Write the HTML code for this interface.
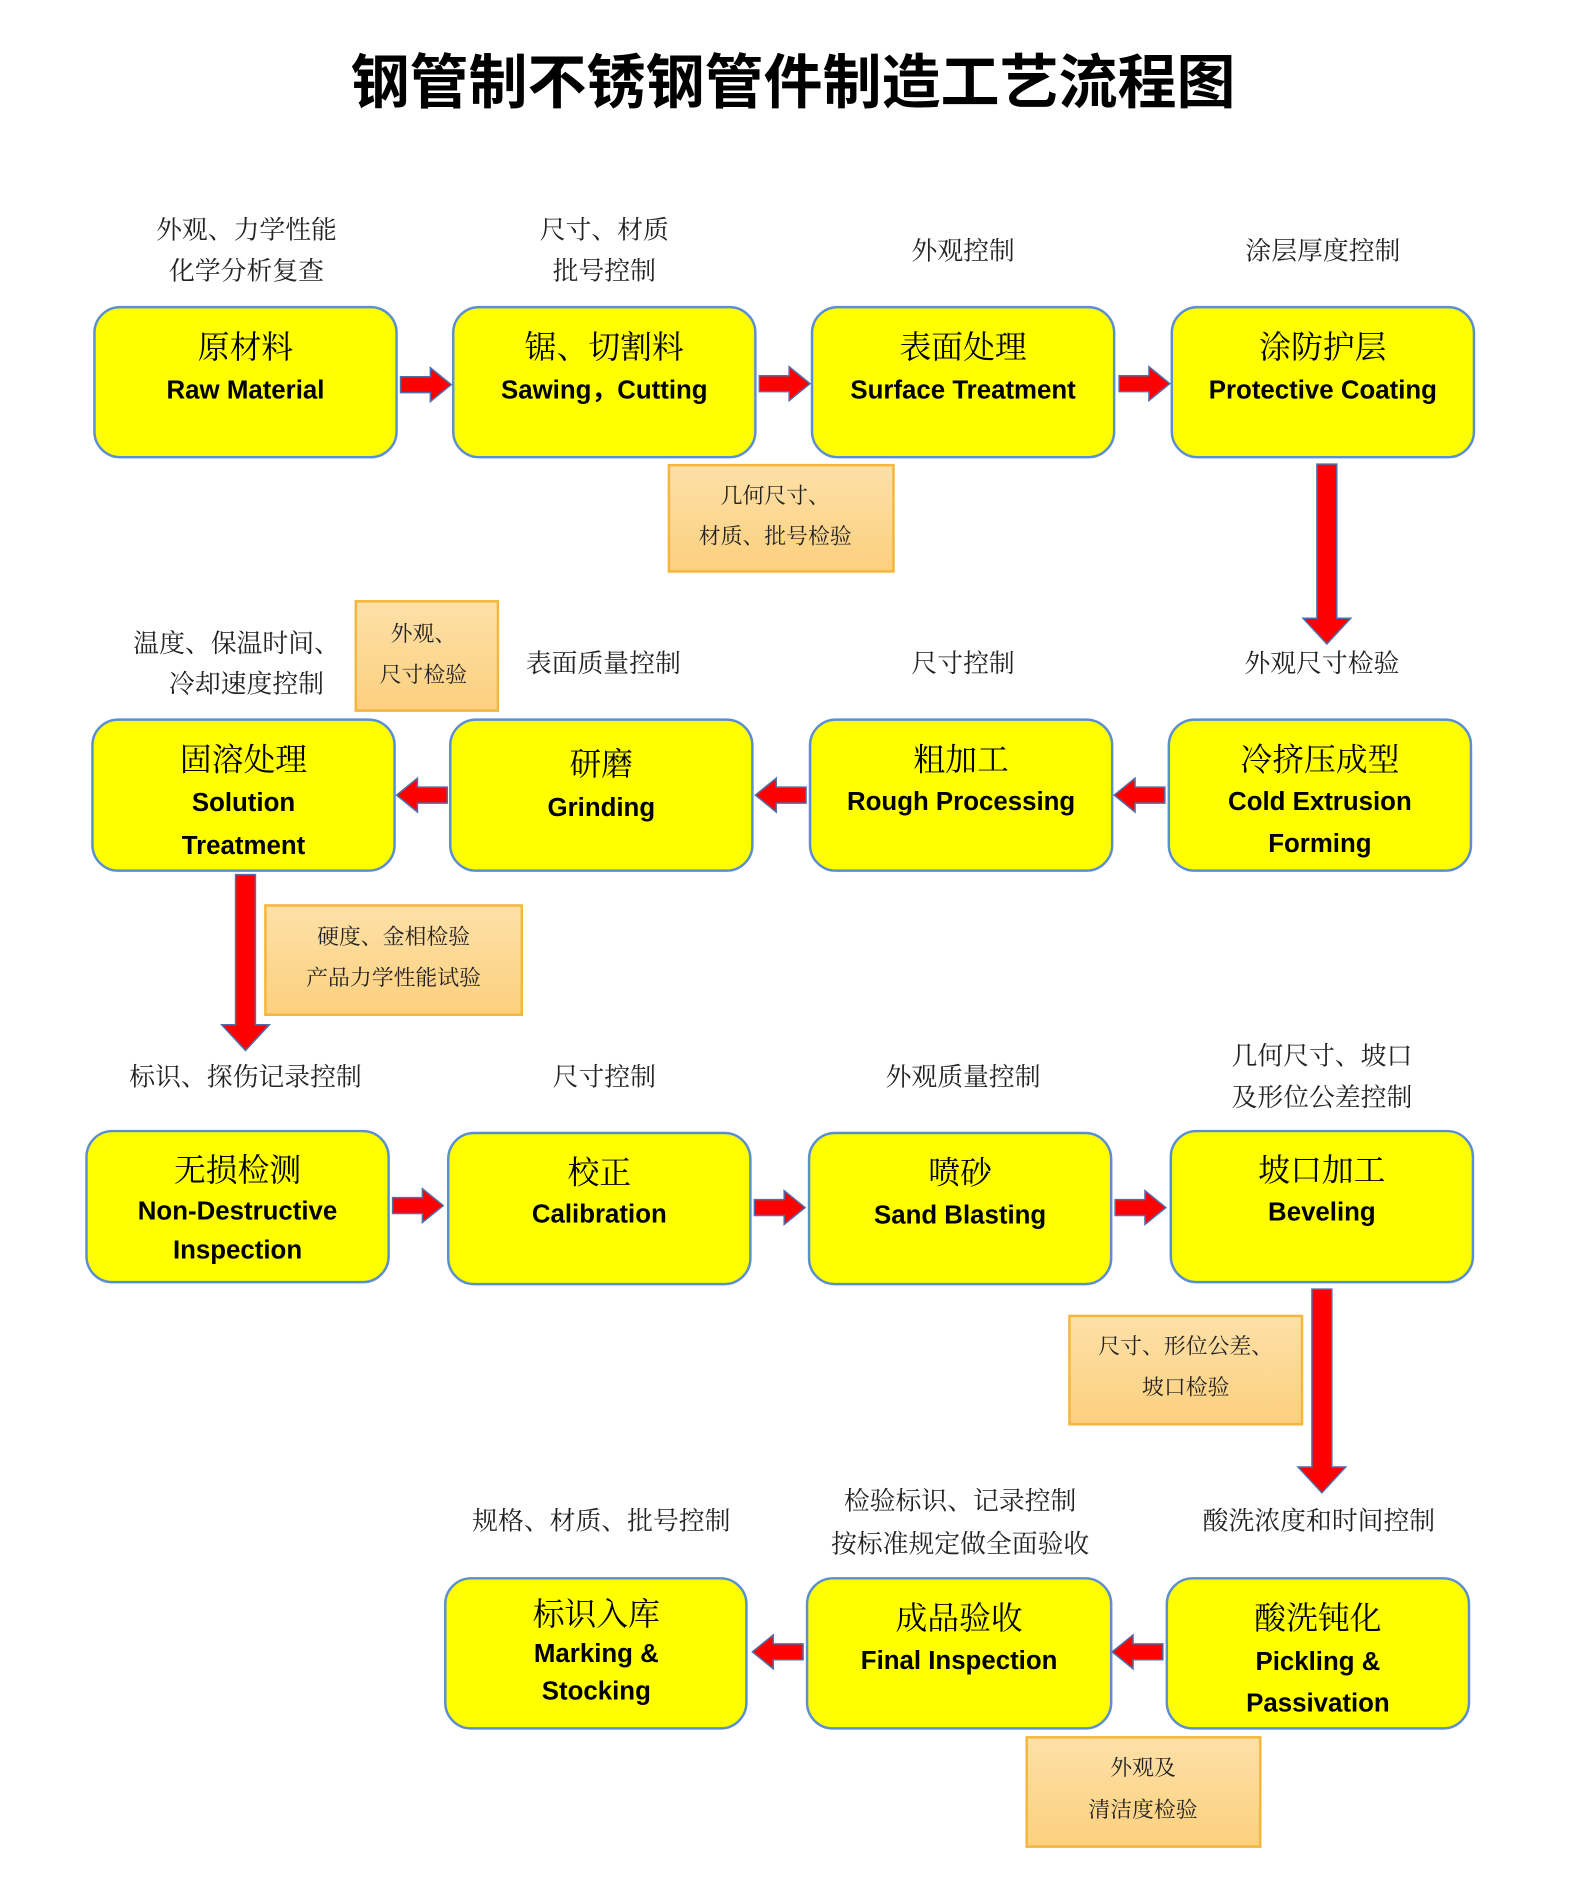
<!DOCTYPE html>
<html><head><meta charset="utf-8"><style>
html,body{margin:0;padding:0;background:#fff;}
svg{display:block;}
.bx{fill:#ffff00;stroke:#5b8fcf;stroke-width:2.5;}
.ob{fill:url(#og);stroke:#f4b63c;stroke-width:2.5;}
.ar{fill:#ff0000;stroke:#4f6fa8;stroke-width:1.5;}
.cn{font-family:"Liberation Serif","Noto Serif CJK SC",serif;font-size:32px;fill:#000;text-anchor:middle;}
.en{font-family:"Liberation Sans","Noto Sans CJK SC",sans-serif;font-size:26px;font-weight:bold;fill:#000;text-anchor:middle;}
.lb{font-family:"Liberation Serif","Noto Serif CJK SC",serif;font-size:26px;fill:#222;text-anchor:middle;}
.ol{font-family:"Liberation Serif","Noto Serif CJK SC",serif;font-size:22px;fill:#222;text-anchor:middle;}
</style></head><body>
<svg width="1587" height="1904" viewBox="0 0 1587 1904" xmlns="http://www.w3.org/2000/svg">
<defs>
<linearGradient id="og" x1="0" y1="0" x2="0" y2="1"><stop offset="0" stop-color="#fde0a8"/><stop offset="1" stop-color="#fcd07e"/></linearGradient>
<g id="ha"><polygon class="ar" points="0,-8 30,-8 30,-17 51,0 30,17 30,8 0,8"/></g>
</defs>
<text x="793" y="103" font-family="Liberation Sans,Noto Sans CJK SC,sans-serif" font-size="59" font-weight="bold" text-anchor="middle" fill="#000">钢管制不锈钢管件制造工艺流程图</text>
<g transform="scale(0.9939)">

<!-- Row 1 -->
<text class="lb" x="248" y="240">外观、力学性能</text><text class="lb" x="248" y="281">化学分析复查</text>
<text class="lb" x="608" y="240">尺寸、材质</text><text class="lb" x="608" y="281">批号控制</text>
<text class="lb" x="969" y="261">外观控制</text>
<text class="lb" x="1331" y="261">涂层厚度控制</text>

<rect class="bx" x="95" y="309" width="304" height="151" rx="26"/>
<rect class="bx" x="456" y="309" width="304" height="151" rx="26"/>
<rect class="bx" x="817" y="309" width="304" height="151" rx="26"/>
<rect class="bx" x="1179" y="309" width="304" height="151" rx="26"/>
<text class="cn" x="247" y="360">原材料</text><text class="en" x="247" y="401">Raw Material</text>
<text class="cn" x="608" y="360">锯、切割料</text><text class="en" x="608" y="401">Sawing，Cutting</text>
<text class="cn" x="969" y="360">表面处理</text><text class="en" x="969" y="401">Surface Treatment</text>
<text class="cn" x="1331" y="360">涂防护层</text><text class="en" x="1331" y="401">Protective Coating</text>

<use href="#ha" x="403" y="387"/>
<use href="#ha" x="764" y="386"/>
<use href="#ha" x="1126" y="386"/>

<rect class="ob" x="673" y="468" width="226" height="107"/>
<text class="ol" x="780" y="506">几何尺寸、</text><text class="ol" x="780" y="547">材质、批号检验</text>

<polygon class="ar" points="1325,467 1345,467 1345,622 1359,622 1335,648 1311,622 1325,622"/>

<!-- Row 2 -->
<text class="lb" x="238" y="656">温度、保温时间、</text><text class="lb" x="248" y="697">冷却速度控制</text>
<rect class="ob" x="358" y="605" width="143" height="110"/>
<text class="ol" x="426" y="645">外观、</text><text class="ol" x="426" y="686">尺寸检验</text>
<text class="lb" x="607" y="676">表面质量控制</text>
<text class="lb" x="969" y="676">尺寸控制</text>
<text class="lb" x="1330" y="676">外观尺寸检验</text>

<rect class="bx" x="93" y="724" width="304" height="152" rx="26"/>
<rect class="bx" x="453" y="724" width="304" height="152" rx="26"/>
<rect class="bx" x="815" y="724" width="304" height="152" rx="26"/>
<rect class="bx" x="1176" y="724" width="304" height="152" rx="26"/>
<text class="cn" x="245" y="775">固溶处理</text><text class="en" x="245" y="816">Solution</text><text class="en" x="245" y="859">Treatment</text>
<text class="cn" x="605" y="780">研磨</text><text class="en" x="605" y="821">Grinding</text>
<text class="cn" x="967" y="775">粗加工</text><text class="en" x="967" y="815">Rough Processing</text>
<text class="cn" x="1328" y="775">冷挤压成型</text><text class="en" x="1328" y="815">Cold Extrusion</text><text class="en" x="1328" y="857">Forming</text>

<g transform="translate(450,800) scale(-1,1)"><use href="#ha"/></g>
<g transform="translate(811,800) scale(-1,1)"><use href="#ha"/></g>
<g transform="translate(1172,800) scale(-1,1)"><use href="#ha"/></g>

<polygon class="ar" points="237,880 257,880 257,1031 271,1031 247,1057 223,1031 237,1031"/>
<rect class="ob" x="267" y="911" width="258" height="110"/>
<text class="ol" x="396" y="950">硬度、金相检验</text><text class="ol" x="396" y="991">产品力学性能试验</text>

<!-- Row 3 -->
<text class="lb" x="247" y="1092">标识、探伤记录控制</text>
<text class="lb" x="608" y="1092">尺寸控制</text>
<text class="lb" x="969" y="1092">外观质量控制</text>
<text class="lb" x="1330" y="1071">几何尺寸、坡口</text><text class="lb" x="1330" y="1113">及形位公差控制</text>

<rect class="bx" x="87" y="1138" width="304" height="152" rx="26"/>
<rect class="bx" x="451" y="1140" width="304" height="152" rx="26"/>
<rect class="bx" x="814" y="1140" width="304" height="152" rx="26"/>
<rect class="bx" x="1178" y="1138" width="304" height="152" rx="26"/>
<text class="cn" x="239" y="1188">无损检测</text><text class="en" x="239" y="1227">Non-Destructive</text><text class="en" x="239" y="1266">Inspection</text>
<text class="cn" x="603" y="1191">校正</text><text class="en" x="603" y="1230">Calibration</text>
<text class="cn" x="966" y="1191">喷砂</text><text class="en" x="966" y="1231">Sand Blasting</text>
<text class="cn" x="1330" y="1188">坡口加工</text><text class="en" x="1330" y="1228">Beveling</text>

<use href="#ha" x="395" y="1213"/>
<use href="#ha" x="759" y="1215"/>
<use href="#ha" x="1122" y="1215"/>

<rect class="ob" x="1076" y="1324" width="234" height="109"/>
<text class="ol" x="1193" y="1362">尺寸、形位公差、</text><text class="ol" x="1193" y="1403">坡口检验</text>
<polygon class="ar" points="1320,1297 1340,1297 1340,1476 1354,1476 1330,1502 1306,1476 1320,1476"/>

<!-- Row 4 -->
<text class="lb" x="605" y="1539">规格、材质、批号控制</text>
<text class="lb" x="966" y="1519">检验标识、记录控制</text><text class="lb" x="966" y="1562">按标准规定做全面验收</text>
<text class="lb" x="1327" y="1539">酸洗浓度和时间控制</text>

<rect class="bx" x="448" y="1588" width="303" height="151" rx="26"/>
<rect class="bx" x="812" y="1588" width="306" height="151" rx="26"/>
<rect class="bx" x="1174" y="1588" width="304" height="151" rx="26"/>
<text class="cn" x="600" y="1635">标识入库</text><text class="en" x="600" y="1672">Marking &amp;</text><text class="en" x="600" y="1710">Stocking</text>
<text class="cn" x="965" y="1639">成品验收</text><text class="en" x="965" y="1679">Final Inspection</text>
<text class="cn" x="1326" y="1639">酸洗钝化</text><text class="en" x="1326" y="1680">Pickling &amp;</text><text class="en" x="1326" y="1722">Passivation</text>

<g transform="translate(808,1662) scale(-1,1)"><use href="#ha"/></g>
<g transform="translate(1170,1662) scale(-1,1)"><use href="#ha"/></g>

<rect class="ob" x="1033" y="1748" width="235" height="110"/>
<text class="ol" x="1150" y="1786">外观及</text><text class="ol" x="1150" y="1828">清洁度检验</text>
</g>
</svg>
</body></html>
